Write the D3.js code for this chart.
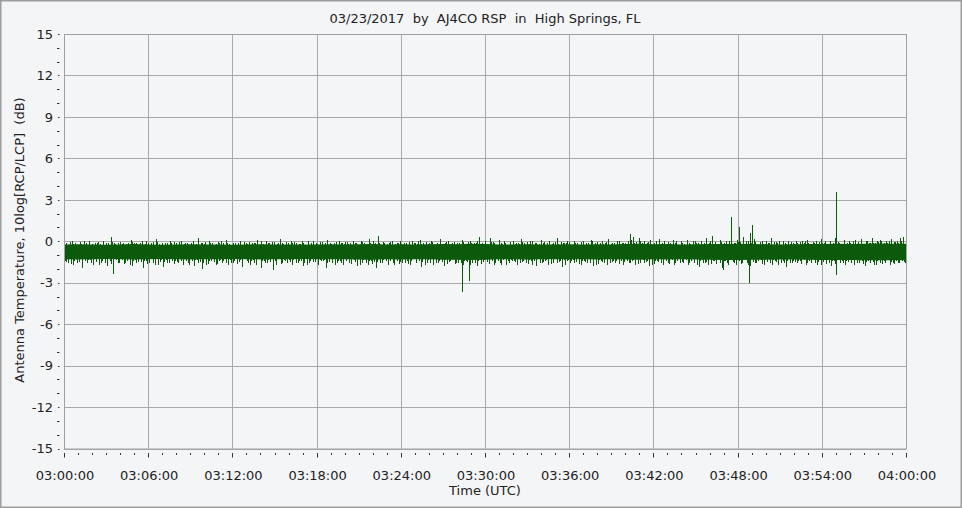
<!DOCTYPE html>
<html>
<head>
<meta charset="utf-8">
<script src="https://cdn.jsdelivr.net/npm/d3@7"></script>
<style>
  html, body { margin: 0; padding: 0; background: #f4f5f7; }
  svg { display: block; }
  text { font-family: "DejaVu Sans", Verdana, sans-serif; fill: #222; }
</style>
</head>
<body>
<svg id="chart" width="962" height="508"></svg>
<script>
// chart text
const title  = "03/23/2017  by  AJ4CO RSP  in  High Springs, FL";
const xTitle = "Time (UTC)";
const yTitle = "Antenna Temperature, 10log[RCP/LCP]  (dB)";

const yTicks = [15, 12, 9, 6, 3, 0, -3, -6, -9, -12, -15];

// solid core of the noise band, one value per minute 03:00..04:00 (dB)
const coreHi = [
  -0.23,-0.21,-0.23,-0.25,-0.23,-0.2,-0.23,-0.26,-0.23,-0.21,-0.23,-0.23,-0.25,-0.23,-0.21,-0.23,-0.23,-0.24,-0.23,-0.22,
  -0.23,-0.21,-0.2,-0.23,-0.21,-0.23,-0.22,-0.2,-0.21,-0.18,-0.2,-0.23,-0.23,-0.21,-0.23,-0.23,-0.22,-0.23,-0.21,-0.23,
  -0.19,-0.18,-0.21,-0.2,-0.23,-0.21,-0.2,-0.19,-0.18,-0.2,-0.21,-0.23,-0.21,-0.2,-0.19,-0.18,-0.19,-0.18,-0.17,-0.18,-0.18
];
const coreLo = [
  -1.3,-1.32,-1.3,-1.28,-1.3,-1.32,-1.3,-1.28,-1.3,-1.32,-1.3,-1.3,-1.28,-1.3,-1.32,-1.3,-1.3,-1.29,-1.3,-1.31,
  -1.3,-1.32,-1.33,-1.3,-1.32,-1.3,-1.31,-1.33,-1.34,-1.35,-1.33,-1.3,-1.3,-1.32,-1.3,-1.3,-1.31,-1.3,-1.32,-1.3,
  -1.32,-1.33,-1.3,-1.32,-1.3,-1.32,-1.33,-1.35,-1.36,-1.34,-1.33,-1.32,-1.32,-1.34,-1.35,-1.36,-1.35,-1.37,-1.38,-1.37,-1.37
];

// band peaks, one every 12 s from 03:00:00 (dB)
const peaks = [
  -0.2,-0.1,-0.3,0.0,-0.15,-0.25,-0.05,-0.3,-0.1,0.05,-0.2,-0.35,-0.1,-0.2,0.0,-0.25,-0.15,0.3,-0.1,-0.3,
  -0.05,-0.2,-0.3,-0.1,0.1,-0.25,-0.15,-0.35,0.0,-0.2,-0.1,-0.3,-0.05,0.15,-0.2,-0.1,-0.3,-0.15,0.0,-0.25,
  -0.1,-0.3,0.05,-0.2,-0.15,-0.35,-0.05,-0.25,0.2,-0.1,-0.2,-0.3,0.0,-0.15,-0.25,-0.05,-0.3,-0.1,0.1,-0.2,
  -0.3,-0.1,-0.2,0.0,-0.35,-0.15,-0.05,-0.25,-0.1,0.1,-0.3,-0.2,0.0,-0.15,-0.3,-0.05,-0.2,0.15,-0.1,-0.25,
  -0.15,0.0,-0.3,-0.1,-0.2,0.05,-0.35,-0.1,-0.25,0.0,-0.15,-0.3,-0.05,-0.2,0.1,-0.1,-0.25,-0.35,0.0,-0.15,
  -0.2,-0.05,-0.3,0.05,-0.15,-0.25,0.0,-0.1,-0.3,0.15,-0.2,-0.1,0.4,-0.25,-0.05,-0.3,-0.15,0.0,-0.2,-0.1,
  0.05,-0.25,-0.1,-0.3,0.0,-0.15,-0.2,0.1,-0.35,-0.05,-0.2,0.0,-0.25,-0.1,0.15,-0.3,-0.15,0.0,-0.2,-0.05,
  -0.3,-0.1,0.1,-0.2,-0.05,0.0,-0.25,-0.15,0.3,-0.1,0.05,-0.2,0.2,-0.05,-0.3,0.1,-0.15,0.0,-0.25,-0.1,
  0.05,-0.2,-0.1,0.15,-0.3,-0.05,-0.2,0.0,-0.15,-0.3,0.1,-0.1,-0.25,0.0,-0.2,-0.05,0.2,-0.3,-0.1,-0.15,
  -0.05,-0.25,0.0,-0.15,-0.3,0.05,-0.2,-0.1,0.1,-0.25,-0.05,-0.3,0.0,-0.15,0.15,-0.2,-0.1,-0.3,0.05,-0.15,
  -0.1,0.0,0.55,0.3,-0.05,0.2,-0.2,0.0,-0.1,0.1,-0.25,-0.05,0.15,-0.2,0.0,-0.3,-0.1,0.1,-0.15,-0.25,
  0.0,-0.2,0.1,-0.1,-0.3,0.05,-0.15,0.0,-0.25,0.2,-0.1,0.4,-0.05,-0.2,0.1,-0.3,0.0,-0.15,0.25,-0.1,
  0.1,-0.05,0.3,-0.2,0.0,-0.1,0.15,-0.3,-0.05,0.0,-0.2,-0.1,0.2,-0.25,-0.05,0.05,-0.3,-0.15,0.0,-0.2,
  -0.1,0.0,-0.25,0.05,-0.15,0.1,-0.3,-0.05,0.0,-0.2,0.15,-0.1,-0.25,0.0,-0.15,0.2,-0.05,-0.3,0.1,-0.1,
  0.0,-0.2,0.1,-0.05,0.15,-0.25,0.05,-0.1,0.2,-0.15,0.0,0.1,-0.2,0.05,-0.1,0.15,-0.05,0.0,0.2,0.3
];

// second set of peaks, one every 12 s from 03:00:03 (dB)
const peaks2 = [
  -0.15,-0.3,-0.05,-0.2,-0.1,-0.35,-0.2,0.0,-0.25,-0.1,-0.3,-0.15,-0.05,-0.25,-0.2,-0.1,-0.3,-0.05,-0.2,-0.15,
  -0.25,-0.1,-0.2,-0.3,-0.05,-0.15,-0.25,-0.1,-0.3,0.0,-0.2,-0.15,-0.35,-0.05,-0.25,-0.2,-0.1,-0.3,-0.15,-0.05,
  -0.2,-0.05,-0.25,-0.15,-0.3,-0.1,0.0,-0.2,-0.35,-0.15,-0.05,-0.25,-0.1,-0.3,-0.2,-0.15,0.0,-0.25,-0.1,-0.3,
  -0.1,-0.25,-0.15,-0.3,-0.05,-0.2,-0.35,-0.1,-0.15,-0.25,0.0,-0.3,-0.2,-0.1,-0.05,-0.25,-0.15,-0.3,-0.2,-0.05,
  -0.3,-0.15,-0.05,-0.25,-0.2,-0.1,-0.3,0.0,-0.15,-0.35,-0.2,-0.05,-0.25,-0.1,-0.3,-0.2,-0.15,-0.05,-0.25,-0.1,
  -0.05,-0.2,-0.15,-0.3,-0.1,-0.25,-0.05,-0.35,-0.2,-0.1,0.0,-0.25,-0.15,-0.3,-0.1,-0.2,-0.05,-0.25,-0.3,-0.15,
  -0.2,-0.1,-0.3,-0.05,-0.25,-0.15,0.0,-0.2,-0.1,-0.3,-0.15,-0.05,-0.35,-0.2,-0.1,-0.25,-0.05,-0.3,-0.15,-0.2,
  -0.15,-0.25,-0.05,-0.2,-0.3,-0.1,-0.15,0.05,-0.25,-0.2,-0.1,-0.3,-0.05,-0.15,-0.25,0.0,-0.2,-0.1,-0.3,-0.05,
  -0.25,-0.1,-0.2,-0.05,-0.15,-0.3,0.0,-0.25,-0.1,-0.2,-0.35,-0.05,-0.15,-0.25,-0.1,-0.3,-0.2,-0.05,-0.15,0.0,
  -0.1,-0.3,-0.15,-0.25,-0.05,-0.2,-0.1,-0.3,0.0,-0.15,-0.25,-0.1,-0.2,-0.05,-0.3,-0.15,-0.25,0.0,-0.2,-0.1,
  -0.2,-0.05,0.1,-0.15,-0.25,0.0,-0.1,-0.3,-0.05,-0.2,-0.15,0.05,-0.25,-0.1,-0.3,-0.05,-0.2,-0.15,0.0,-0.25,
  -0.1,-0.25,-0.05,-0.2,0.0,-0.15,-0.3,-0.05,-0.1,-0.25,0.05,-0.2,-0.15,-0.3,-0.05,-0.1,-0.25,0.0,-0.2,-0.15,
  -0.05,-0.2,-0.1,0.0,-0.25,-0.15,-0.05,-0.3,-0.1,-0.2,0.05,-0.15,-0.25,-0.05,-0.1,-0.3,0.0,-0.2,-0.15,-0.05,
  -0.2,-0.1,-0.05,-0.25,0.0,-0.15,-0.2,-0.1,-0.3,-0.05,-0.15,0.0,-0.25,-0.1,-0.2,-0.05,-0.15,-0.25,0.0,-0.1,
  -0.15,0.0,-0.2,-0.1,-0.05,-0.25,0.0,-0.15,-0.1,-0.2,-0.05,0.05,-0.15,-0.1,0.0,-0.2,-0.05,-0.1,0.0,-0.05
];

// band troughs, one every 12 s from 03:00:06 (dB)
const troughs = [
  -1.4,-1.6,-1.2,-1.75,-1.3,-1.5,-1.9,-1.25,-1.55,-1.35,-1.7,-1.2,-1.45,-1.6,-1.3,-1.8,-1.4,-2.35,-1.25,-1.55,
  -1.3,-1.65,-1.45,-1.2,-1.8,-1.35,-1.5,-1.25,-1.95,-1.4,-1.6,-1.3,-1.7,-1.2,-1.5,-1.85,-1.35,-1.55,-1.25,-1.65,
  -1.5,-1.25,-1.7,-1.4,-1.6,-1.2,-1.8,-1.35,-1.5,-2.0,-1.3,-1.65,-1.45,-1.25,-1.75,-1.4,-1.55,-1.2,-1.7,-1.35,
  -1.6,-1.3,-1.5,-1.85,-1.25,-1.45,-1.7,-1.35,-1.55,-1.2,-1.9,-1.4,-1.6,-1.3,-2.1,-1.45,-1.25,-1.65,-1.35,-1.5,
  -1.35,-1.7,-1.25,-1.55,-1.4,-1.8,-1.3,-1.6,-1.2,-1.5,-1.75,-1.35,-1.45,-1.95,-1.3,-1.6,-1.25,-1.55,-1.4,-1.7,
  -1.45,-1.25,-1.65,-1.35,-1.8,-1.3,-1.55,-1.2,-1.7,-1.4,-1.5,-1.9,-1.3,-1.6,-1.25,-1.75,-1.4,-1.55,-1.2,-1.65,
  -1.3,-1.6,-1.4,-1.75,-1.25,-1.5,-1.35,-1.85,-1.2,-1.55,-1.45,-1.7,-1.3,-1.6,-1.25,-1.8,-1.4,-1.5,-1.35,-1.65,
  -1.55,-1.3,-1.7,-1.4,-1.25,-1.6,-1.45,-1.8,-1.35,-1.5,-1.2,-1.65,-1.4,-1.75,-1.3,-1.55,-1.25,-1.7,-1.45,-1.35,
  -1.4,-1.75,-1.3,-1.5,-1.2,-1.65,-1.45,-1.35,-1.8,-1.25,-1.55,-1.4,-1.7,-1.3,-1.6,-1.2,-1.5,-1.85,-1.35,-1.45,
  -1.6,-1.35,-1.5,-1.25,-1.7,-1.4,-1.55,-1.3,-1.8,-1.2,-1.65,-1.45,-1.35,-1.75,-1.25,-1.5,-1.6,-1.3,-1.45,-1.7,
  -1.3,-1.55,-1.4,-1.7,-1.25,-1.6,-1.35,-1.5,-1.8,-1.2,-1.65,-1.4,-1.3,-1.75,-1.45,-1.55,-1.25,-1.7,-1.35,-1.6,
  -1.5,-1.3,-1.75,-1.4,-1.6,-1.25,-1.85,-1.35,-1.55,-1.7,-1.3,-1.45,-1.65,-1.2,-1.9,-1.4,-1.6,-1.35,-1.5,-1.75,
  -1.4,-1.65,-1.3,-1.55,-1.8,-1.25,-1.6,-1.45,-1.35,-1.7,-1.5,-1.3,-1.75,-1.4,-1.25,-1.6,-1.45,-1.85,-1.3,-1.55,
  -1.35,-1.6,-1.45,-1.25,-1.75,-1.4,-1.55,-1.3,-1.7,-1.2,-1.5,-1.65,-1.35,-1.8,-1.45,-1.3,-1.6,-1.4,-1.75,-1.5,
  -1.45,-1.7,-1.3,-1.6,-1.4,-1.8,-1.25,-1.55,-1.5,-1.75,-1.35,-1.65,-1.45,-1.3,-1.7,-1.55,-1.4,-1.6,-1.35,-1.5
];

// second set of troughs, one every 12 s from 03:00:09 (dB)
const troughs2 = [
  -1.5,-1.3,-1.65,-1.4,-1.55,-1.25,-1.7,-1.45,-1.35,-1.6,-1.3,-1.5,-1.75,-1.4,-1.55,-1.3,-1.65,-1.45,-1.35,-1.6,
  -1.35,-1.55,-1.3,-1.7,-1.45,-1.6,-1.25,-1.5,-1.4,-1.65,-1.3,-1.55,-1.45,-1.75,-1.35,-1.5,-1.6,-1.3,-1.45,-1.4,
  -1.6,-1.4,-1.5,-1.3,-1.75,-1.45,-1.35,-1.6,-1.25,-1.55,-1.7,-1.4,-1.3,-1.5,-1.65,-1.35,-1.45,-1.6,-1.3,-1.55,
  -1.45,-1.65,-1.35,-1.5,-1.3,-1.6,-1.4,-1.55,-1.75,-1.3,-1.45,-1.6,-1.35,-1.5,-1.4,-1.7,-1.3,-1.55,-1.45,-1.6,
  -1.5,-1.35,-1.6,-1.45,-1.3,-1.55,-1.7,-1.4,-1.5,-1.3,-1.65,-1.45,-1.35,-1.6,-1.5,-1.3,-1.75,-1.4,-1.55,-1.35,
  -1.4,-1.6,-1.3,-1.5,-1.45,-1.7,-1.35,-1.55,-1.4,-1.65,-1.3,-1.5,-1.6,-1.35,-1.45,-1.55,-1.3,-1.7,-1.4,-1.5,
  -1.55,-1.35,-1.65,-1.45,-1.3,-1.6,-1.4,-1.5,-1.75,-1.35,-1.55,-1.3,-1.6,-1.45,-1.5,-1.35,-1.65,-1.4,-1.3,-1.55,
  -1.35,-1.6,-1.45,-1.5,-1.7,-1.3,-1.55,-1.4,-1.65,-1.35,-1.5,-1.45,-1.3,-1.6,-1.4,-1.75,-1.35,-1.5,-1.55,-1.4,
  -1.5,-1.3,-1.6,-1.4,-1.55,-1.35,-1.7,-1.45,-1.3,-1.6,-1.5,-1.35,-1.45,-1.65,-1.3,-1.55,-1.4,-1.5,-1.7,-1.35,
  -1.45,-1.55,-1.35,-1.65,-1.4,-1.5,-1.3,-1.6,-1.45,-1.75,-1.35,-1.5,-1.55,-1.3,-1.6,-1.4,-1.45,-1.65,-1.35,-1.5,
  -1.4,-1.6,-1.35,-1.5,-1.65,-1.3,-1.55,-1.45,-1.35,-1.7,-1.4,-1.5,-1.6,-1.3,-1.45,-1.65,-1.35,-1.55,-1.4,-1.5,
  -1.55,-1.35,-1.6,-1.45,-1.3,-1.7,-1.4,-1.55,-1.5,-1.35,-1.65,-1.4,-1.3,-1.6,-1.5,-1.45,-1.75,-1.35,-1.55,-1.4,
  -1.45,-1.6,-1.35,-1.7,-1.4,-1.5,-1.55,-1.3,-1.65,-1.4,-1.45,-1.6,-1.35,-1.5,-1.7,-1.3,-1.55,-1.45,-1.6,-1.4,
  -1.5,-1.4,-1.65,-1.35,-1.55,-1.45,-1.3,-1.6,-1.5,-1.7,-1.35,-1.45,-1.55,-1.4,-1.65,-1.3,-1.5,-1.6,-1.45,-1.35,
  -1.6,-1.4,-1.55,-1.35,-1.65,-1.5,-1.45,-1.3,-1.7,-1.4,-1.55,-1.45,-1.6,-1.35,-1.5,-1.65,-1.4,-1.55,-1.45,-1.6
];

// isolated spikes: [minutes after 03:00, dB]
const spikes = [
  [28.37, -3.7], [28.89, -2.9],
  [47.02, -2.1], [47.56, 1.75], [48.13, 1.0],
  [48.84, -3.05], [48.95, 0.6], [49.06, 1.2],
  [55.04, 3.56], [55.04, -2.45]
];

const bandMid = -0.75;   // needles start from the middle of the band

const t0 = Date.UTC(2017, 2, 23, 3, 0, 0);
const t1 = Date.UTC(2017, 2, 23, 4, 0, 0);

const svg = d3.select("#chart");
const W = 962, H = 508;
const plot = { left: 64, right: 906, top: 34, bottom: 448.5 };
const GREEN = "#0b5a0b";

// background + outer frame
svg.append("rect")
  .attr("x", 0.75).attr("y", 0.75)
  .attr("width", W - 1.5).attr("height", H - 1.5)
  .attr("fill", "#f4f5f7")
  .attr("stroke", "#9c9c9c")
  .attr("stroke-width", 1.5);

const x = d3.scaleUtc().domain([new Date(t0), new Date(t1)]).range([plot.left, plot.right]);
const y = d3.scaleLinear().domain([-15, 15]).range([plot.bottom, plot.top]);

// grid
const grid = svg.append("g").attr("stroke", "#a9a9a9").attr("stroke-width", 1);
const majorTimes = x.ticks(d3.utcMinute.every(6));
grid.selectAll("line.v")
  .data(majorTimes)
  .enter().append("line")
    .attr("class", "v")
    .attr("x1", d => Math.round(x(d)) + 0.5)
    .attr("x2", d => Math.round(x(d)) + 0.5)
    .attr("y1", plot.top)
    .attr("y2", plot.bottom);
grid.selectAll("line.h")
  .data(yTicks)
  .enter().append("line")
    .attr("class", "h")
    .attr("x1", plot.left)
    .attr("x2", plot.right)
    .attr("y1", d => Math.round(y(d)) + 0.5)
    .attr("y2", d => Math.round(y(d)) + 0.5);

// y ticks: a small mark every dB, label every 3
const yMinor = d3.range(-15, 16, 1);
svg.append("g").attr("stroke", "#333")
  .selectAll("line")
  .data(yMinor)
  .enter().append("line")
    .attr("x1", d => d % 3 === 0 ? 58 : 57)
    .attr("x2", 59.5)
    .attr("y1", d => Math.round(y(d)) + 0.5)
    .attr("y2", d => Math.round(y(d)) + 0.5);

svg.append("g").selectAll("text")
  .data(yTicks)
  .enter().append("text")
    .attr("x", 53)
    .attr("y", d => y(d) + 4.7)
    .attr("text-anchor", "end")
    .attr("font-size", 13)
    .text(d => d);

// x ticks: minor every minute, major every 6
const minorTimes = x.ticks(d3.utcMinute.every(1));
svg.append("g").attr("stroke", "#333")
  .selectAll("line")
  .data(minorTimes)
  .enter().append("line")
    .attr("x1", d => Math.round(x(d)) + 0.5)
    .attr("x2", d => Math.round(x(d)) + 0.5)
    .attr("y1", 453)
    .attr("y2", d => d.getUTCMinutes() % 6 === 0 ? 457.5 : 455);

const fmt = d3.utcFormat("%H:%M:%S");
svg.append("g").selectAll("text")
  .data(majorTimes)
  .enter().append("text")
    .attr("x", d => x(d) + 1)
    .attr("y", 479.5)
    .attr("text-anchor", "middle")
    .attr("font-size", 13)
    .text(d => fmt(d));

// noise trace
const trace = svg.append("g");

// solid core of the band
const coreData = coreHi.map((hi, i) => ({ t: new Date(t0 + i * 60000), hi, lo: coreLo[i] }));
trace.append("path")
  .datum(coreData)
  .attr("fill", GREEN)
  .attr("d", d3.area()
    .x(d => x(d.t))
    .y0(d => y(d.lo))
    .y1(d => y(d.hi)));

// needles: peaks, troughs and the isolated spikes
const needles = [];
const addSet = (arr, offsetMs) =>
  arr.forEach((v, i) => needles.push({ t: new Date(t0 + i * 12000 + offsetMs), v }));
addSet(peaks, 0);
addSet(peaks2, 3000);
addSet(troughs, 6000);
addSet(troughs2, 9000);
spikes.forEach(([m, v]) => needles.push({ t: new Date(t0 + m * 60000), v }));

trace.append("g")
  .attr("stroke", GREEN)
  .attr("stroke-width", 1)
  .attr("shape-rendering", "crispEdges")
  .selectAll("line")
  .data(needles)
  .enter().append("line")
    .attr("x1", d => Math.min(Math.floor(x(d.t)) + 0.5, plot.right + 0.5))
    .attr("x2", d => Math.min(Math.floor(x(d.t)) + 0.5, plot.right + 0.5))
    .attr("y1", y(bandMid))
    .attr("y2", d => y(d.v));

// plot frame
svg.append("rect")
  .attr("x", plot.left + 0.5).attr("y", plot.top + 0.5)
  .attr("width", plot.right - plot.left).attr("height", plot.bottom - plot.top)
  .attr("fill", "none")
  .attr("stroke", "#a0a0a0");

// titles
svg.append("text")
  .attr("x", 485).attr("y", 22.5)
  .attr("text-anchor", "middle")
  .attr("font-size", 13)
  .style("white-space", "pre")
  .text(title);

svg.append("text")
  .attr("x", 485).attr("y", 495)
  .attr("text-anchor", "middle")
  .attr("font-size", 13)
  .text(xTitle);

svg.append("text")
  .attr("transform", "translate(24,240) rotate(-90)")
  .attr("text-anchor", "middle")
  .attr("font-size", 13)
  .style("white-space", "pre")
  .text(yTitle);
</script>
</body>
</html>
